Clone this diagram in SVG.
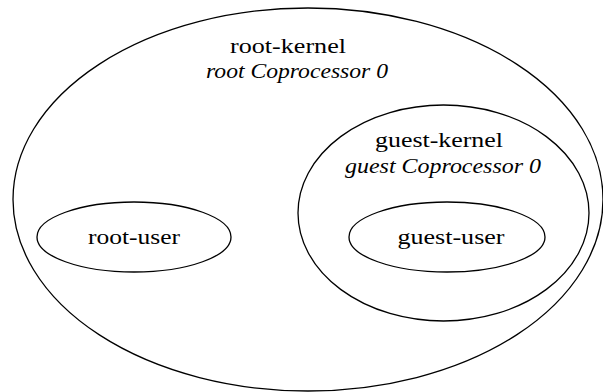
<svg xmlns="http://www.w3.org/2000/svg" width="603" height="392" viewBox="0 0 603 392">
<style>
.e{fill:none;stroke:#000;stroke-width:1.3}
text{font-family:"Liberation Serif","DejaVu Serif",serif;fill:#000;text-anchor:middle}
.t{font-size:22px}
.i{font-size:20px;font-style:italic}
</style>
<rect width="603" height="392" fill="#fff"/>
<g id="root-kernel">
<ellipse class="e" cx="308" cy="199.5" rx="295" ry="191.5"/>
<text class="t" font-family="Liberation Serif" x="288" y="53" textLength="116" lengthAdjust="spacingAndGlyphs">root-kernel</text>
<text class="i" font-family="Liberation Serif" x="297" y="78" textLength="182" lengthAdjust="spacingAndGlyphs">root Coprocessor 0</text>
</g>
<g id="guest-kernel">
<ellipse class="e" cx="443.5" cy="213" rx="145.5" ry="108"/>
<text class="t" font-family="Liberation Serif" x="439" y="147" textLength="128" lengthAdjust="spacingAndGlyphs">guest-kernel</text>
<text class="i" font-family="Liberation Serif" x="443" y="173" textLength="196" lengthAdjust="spacingAndGlyphs">guest Coprocessor 0</text>
</g>
<g id="root-user">
<ellipse class="e" cx="134" cy="237" rx="97" ry="35"/>
<text class="t" font-family="Liberation Serif" x="134" y="244" textLength="92" lengthAdjust="spacingAndGlyphs">root-user</text>
</g>
<g id="guest-user">
<ellipse class="e" cx="447" cy="237" rx="98" ry="35"/>
<text class="t" font-family="Liberation Serif" x="451" y="244" textLength="107" lengthAdjust="spacingAndGlyphs">guest-user</text>
</g>
<g id="connectors"></g>
</svg>
